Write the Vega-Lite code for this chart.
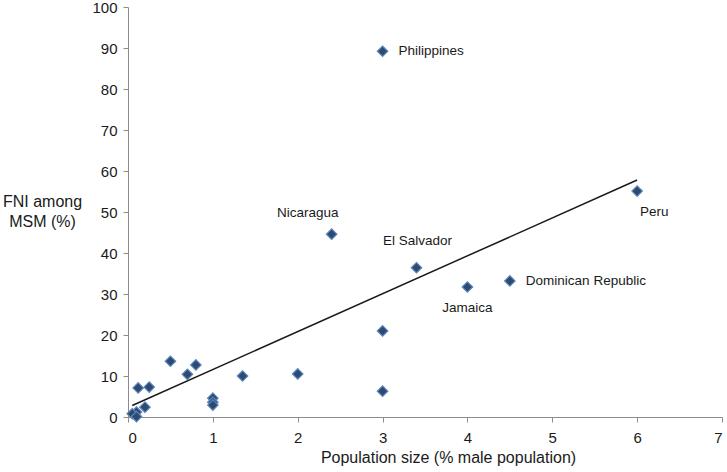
{
  "$schema": "https://vega.github.io/schema/vega-lite/v6.json",
  "width": 594,
  "height": 410,
  "autosize": {"type": "none"},
  "padding": {"left": 128, "top": 7, "right": 5, "bottom": 55},
  "background": "white",
  "config": {
    "view": {"stroke": null},
    "font": "Liberation Sans",
    "axis": {"grid": false, "domainColor": "#8c8c8c", "tickColor": "#8c8c8c", "labelColor": "#1a1a1a", "titleColor": "#1a1a1a", "labelFont": "Liberation Sans", "titleFont": "Liberation Sans", "titleFontWeight": "normal", "labelFontSize": 15, "titleFontSize": 16, "tickSize": 5}
  },
  "datasets": {
    "pts": [
      {"country": "Philippines", "size": 3.0, "fni": 89.2},
      {"country": "Nicaragua", "size": 2.4, "fni": 44.6},
      {"country": "El Salvador", "size": 3.4, "fni": 36.4},
      {"country": "Peru", "size": 6.0, "fni": 55.1},
      {"country": "Jamaica", "size": 4.0, "fni": 31.7},
      {"country": "Dominican Republic", "size": 4.5, "fni": 33.2},
      {"country": "", "size": 3.0, "fni": 21.0},
      {"country": "", "size": 3.0, "fni": 6.3},
      {"country": "", "size": 2.0, "fni": 10.5},
      {"country": "", "size": 1.35, "fni": 10.0},
      {"country": "", "size": 1.0, "fni": 4.6},
      {"country": "", "size": 1.0, "fni": 3.6},
      {"country": "", "size": 1.0, "fni": 2.9},
      {"country": "", "size": 0.8, "fni": 12.7},
      {"country": "", "size": 0.7, "fni": 10.4},
      {"country": "", "size": 0.5, "fni": 13.6},
      {"country": "", "size": 0.25, "fni": 7.3},
      {"country": "", "size": 0.12, "fni": 7.1},
      {"country": "", "size": 0.2, "fni": 2.4},
      {"country": "", "size": 0.1, "fni": 1.2},
      {"country": "", "size": 0.05, "fni": 0.8},
      {"country": "", "size": 0.1, "fni": 0.1}
    ],
    "trend": [
      {"size": 0.05, "fni": 2.8},
      {"size": 6.0, "fni": 57.8}
    ]
  },
  "layer": [
    {
      "data": {"name": "trend"},
      "mark": {"type": "line", "color": "#1a1a1a", "strokeWidth": 1.5},
      "encoding": {
        "x": {"field": "size", "type": "quantitative", "scale": {"domain": [0, 7], "nice": false},
          "axis": {"title": "Population size (% male population)", "values": [0,1,2,3,4,5,6,7], "format": "d", "labelPadding": 8, "titleX": 320, "titleY": 40, "titleBaseline": "middle"}},
        "y": {"field": "fni", "type": "quantitative", "scale": {"domain": [0, 100], "nice": false},
          "axis": {"title": ["FNI among", "MSM (%)"], "values": [0,10,20,30,40,50,60,70,80,90,100], "format": "d", "labelPadding": 6, "titleAngle": 0, "titleAlign": "center", "titleBaseline": "top", "titleX": -86, "titleY": 186, "titleLineHeight": 20, "titleFontSize": 16}}
      }
    },
    {
      "data": {"name": "pts"},
      "mark": {"type": "point", "shape": "diamond", "filled": true, "size": 110, "fill": "#2e4a6e", "stroke": "#5a86bf", "strokeWidth": 1.2, "opacity": 1},
      "encoding": {
        "x": {"field": "size", "type": "quantitative"},
        "y": {"field": "fni", "type": "quantitative"}
      }
    },
    {
      "data": {"name": "pts"},
      "transform": [{"filter": "datum.country == 'Philippines' || datum.country == 'Dominican Republic'"}],
      "mark": {"type": "text", "align": "left", "baseline": "middle", "dx": 16, "fontSize": 13.5, "color": "#1a1a1a", "font": "Liberation Sans"},
      "encoding": {
        "x": {"field": "size", "type": "quantitative"},
        "y": {"field": "fni", "type": "quantitative"},
        "text": {"field": "country"}
      }
    },
    {
      "data": {"name": "pts"},
      "transform": [{"filter": "datum.country == 'Nicaragua'"}],
      "mark": {"type": "text", "align": "center", "baseline": "middle", "dx": -24, "dy": -21, "fontSize": 13.5, "color": "#1a1a1a", "font": "Liberation Sans"},
      "encoding": {
        "x": {"field": "size", "type": "quantitative"},
        "y": {"field": "fni", "type": "quantitative"},
        "text": {"field": "country"}
      }
    },
    {
      "data": {"name": "pts"},
      "transform": [{"filter": "datum.country == 'El Salvador'"}],
      "mark": {"type": "text", "align": "center", "baseline": "middle", "dx": 1, "dy": -27, "fontSize": 13.5, "color": "#1a1a1a", "font": "Liberation Sans"},
      "encoding": {
        "x": {"field": "size", "type": "quantitative"},
        "y": {"field": "fni", "type": "quantitative"},
        "text": {"field": "country"}
      }
    },
    {
      "data": {"name": "pts"},
      "transform": [{"filter": "datum.country == 'Peru'"}],
      "mark": {"type": "text", "align": "center", "baseline": "middle", "dx": 17, "dy": 21, "fontSize": 13.5, "color": "#1a1a1a", "font": "Liberation Sans"},
      "encoding": {
        "x": {"field": "size", "type": "quantitative"},
        "y": {"field": "fni", "type": "quantitative"},
        "text": {"field": "country"}
      }
    },
    {
      "data": {"name": "pts"},
      "transform": [{"filter": "datum.country == 'Jamaica'"}],
      "mark": {"type": "text", "align": "center", "baseline": "middle", "dx": 0, "dy": 21, "fontSize": 13.5, "color": "#1a1a1a", "font": "Liberation Sans"},
      "encoding": {
        "x": {"field": "size", "type": "quantitative"},
        "y": {"field": "fni", "type": "quantitative"},
        "text": {"field": "country"}
      }
    }
  ]
}
